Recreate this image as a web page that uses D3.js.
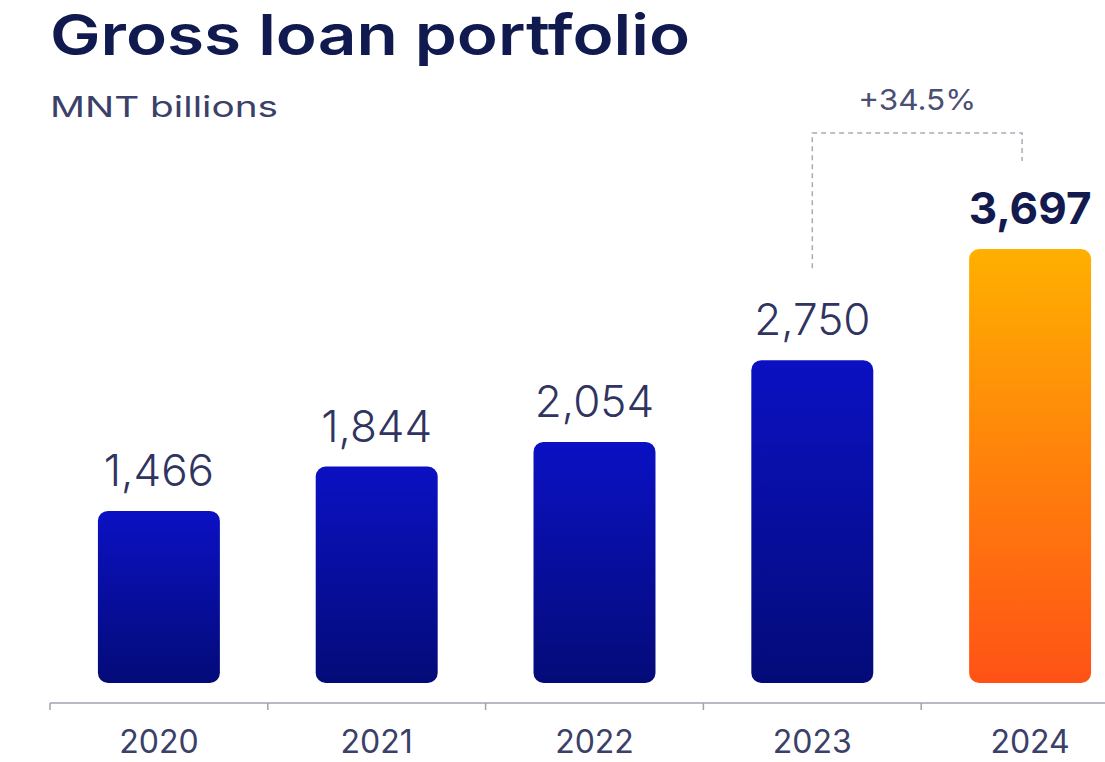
<!DOCTYPE html>
<html>
<head>
<meta charset="utf-8">
<script src="https://cdn.jsdelivr.net/npm/d3@7"></script>
<style>
  html, body { margin: 0; padding: 0; background: #ffffff; }
  svg { display: block; }
  text { font-family: Inter, "Noto Sans", sans-serif; }
</style>
</head>
<body>
<svg id="chart" width="1105" height="762"></svg>
<script>
// Gross loan portfolio, MNT billions
const years = ["2020", "2021", "2022", "2023", "2024"];
const values = [1466, 1844, 2054, 2750, 3697];
const valueLabels = ["1,466", "1,844", "2,054", "2,750", "3,697"];
const highlightYear = "2024";
const growthLabel = "+34.5%";
const titleText = "Gross loan portfolio";
const unitText = "MNT billions";

const W = 1105, H = 762;
const svg = d3.select("#chart");

const x = d3.scaleBand()
  .domain(years)
  .range([50, 1139])
  .paddingInner(0.44)
  .paddingOuter(0.22);

const y = d3.scaleLinear()
  .domain([0, d3.max(values)])
  .range([683, 249]);

// bar gradients
const defs = svg.append("defs");
const blue = defs.append("linearGradient").attr("id", "gBlue")
  .attr("x1", 0).attr("y1", 0).attr("x2", 0).attr("y2", 1);
blue.append("stop").attr("offset", "0%").attr("stop-color", "#0b11c3");
blue.append("stop").attr("offset", "100%").attr("stop-color", "#040b78");
const orange = defs.append("linearGradient").attr("id", "gOrange")
  .attr("x1", 0).attr("y1", 0).attr("x2", 0).attr("y2", 1);
orange.append("stop").attr("offset", "0%").attr("stop-color", "#ffb000");
orange.append("stop").attr("offset", "100%").attr("stop-color", "#ff5216");

// title + unit
svg.append("text")
  .attr("x", 50).attr("y", 55)
  .attr("font-size", 56).attr("font-weight", 600)
  .attr("fill", "#101a4f")
  .attr("textLength", 640).attr("lengthAdjust", "spacingAndGlyphs")
  .text(titleText);

svg.append("text")
  .attr("x", 50).attr("y", 117)
  .attr("font-size", 29).attr("font-weight", 400)
  .attr("fill", "#3b4068")
  .attr("textLength", 228).attr("lengthAdjust", "spacingAndGlyphs")
  .text(unitText);

// x axis: baseline with ticks on band boundaries
const axisG = svg.append("g").attr("transform", "translate(0,703)");
axisG.append("line")
  .attr("x1", 50).attr("x2", W)
  .attr("stroke", "#9fa3b3").attr("stroke-width", 1.5);
axisG.selectAll("line.tick")
  .data(years)
  .join("line")
  .attr("class", "tick")
  .attr("x1", d => x(d) - x.step() * x.paddingInner() / 2)
  .attr("x2", d => x(d) - x.step() * x.paddingInner() / 2)
  .attr("y1", 0).attr("y2", 7)
  .attr("stroke", "#9fa3b3").attr("stroke-width", 1.5);

axisG.selectAll("text.year")
  .data(years)
  .join("text")
  .attr("class", "year")
  .attr("x", d => x(d) + x.bandwidth() / 2)
  .attr("y", 50)
  .attr("text-anchor", "middle")
  .attr("font-size", 32)
  .attr("fill", "#3b4068")
  .text(d => d);

// bars
const data = years.map((yr, i) => ({ year: yr, value: values[i], label: valueLabels[i] }));

svg.selectAll("rect.bar")
  .data(data)
  .join("rect")
  .attr("class", "bar")
  .attr("x", d => x(d.year))
  .attr("width", x.bandwidth())
  .attr("y", d => y(d.value))
  .attr("height", d => y(0) - y(d.value))
  .attr("rx", 10).attr("ry", 10)
  .attr("fill", d => d.year === highlightYear ? "url(#gOrange)" : "url(#gBlue)");

svg.selectAll("text.value")
  .data(data)
  .join("text")
  .attr("class", "value")
  .attr("x", d => x(d.year) + x.bandwidth() / 2)
  .attr("y", d => y(d.value) - 25)
  .attr("text-anchor", "middle")
  .attr("font-size", 44)
  .attr("font-weight", d => d.year === highlightYear ? 700 : 300)
  .attr("fill", d => d.year === highlightYear ? "#131a4e" : "#2f3461")
  .text(d => d.label);

// growth bracket between 2023 and 2024
const xa = x("2023") + x.bandwidth() / 2;
const xb = x("2024") + x.bandwidth() / 2 - 8;
const topY = 133;
svg.append("path")
  .attr("d", `M${xa},${y(values[3]) - 92} V${topY} H${xb} V${topY + 28}`)
  .attr("fill", "none")
  .attr("stroke", "#a9abb8")
  .attr("stroke-width", 1.5)
  .attr("stroke-dasharray", "5,4");

svg.append("text")
  .attr("x", (xa + xb) / 2)
  .attr("y", 110)
  .attr("text-anchor", "middle")
  .attr("font-size", 29)
  .attr("fill", "#4a4f73")
  .attr("textLength", 118).attr("lengthAdjust", "spacingAndGlyphs")
  .text(growthLabel);
</script>
</body>
</html>
